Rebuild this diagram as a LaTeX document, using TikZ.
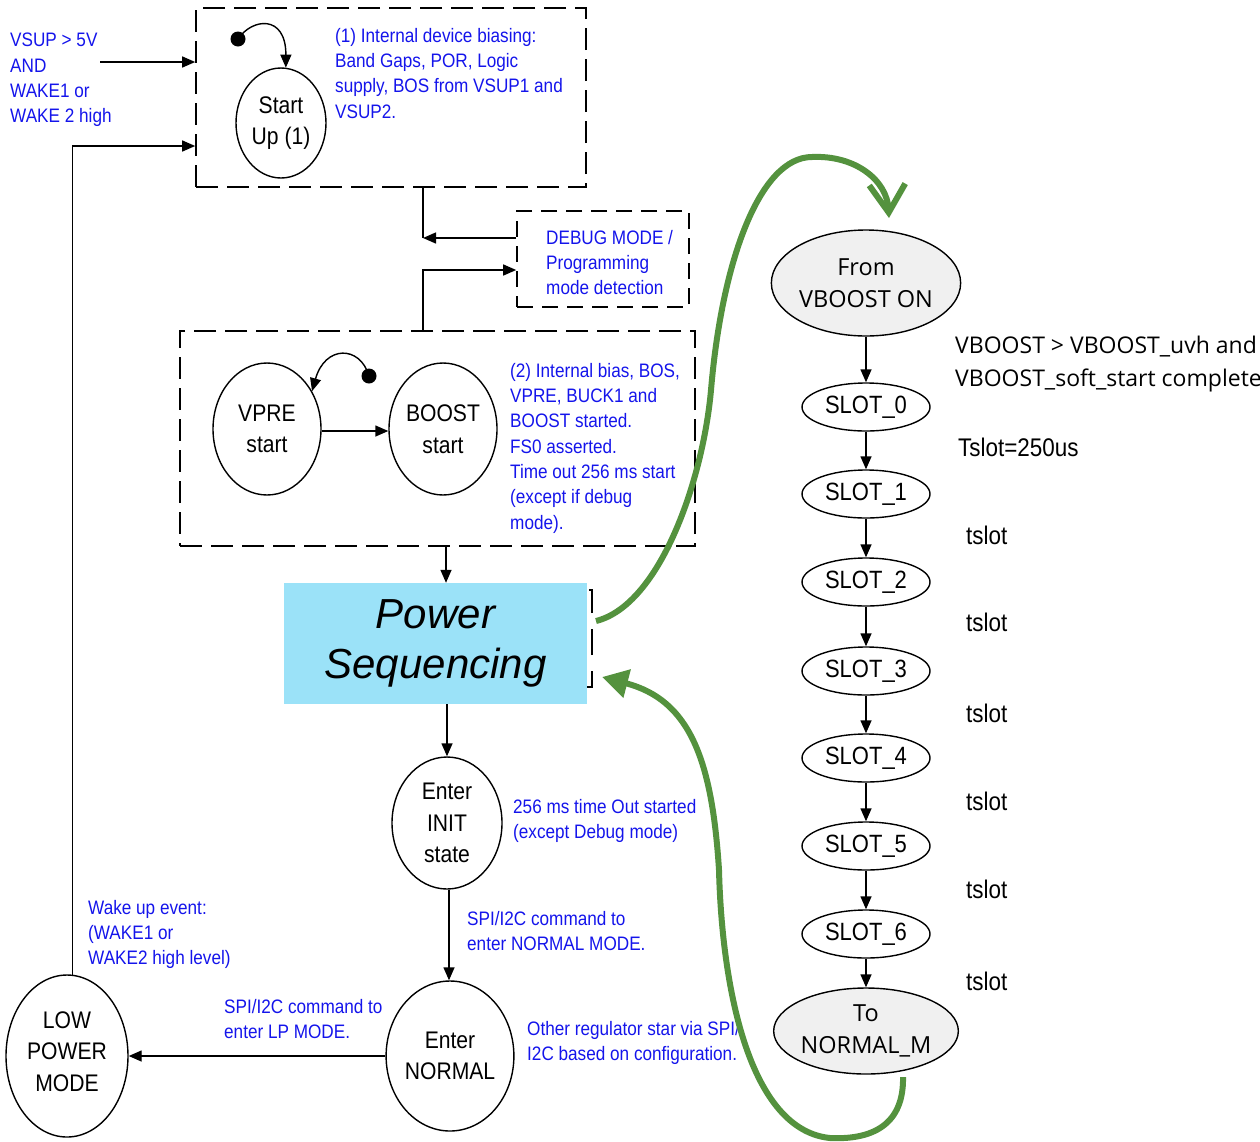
\documentclass[tikz,border=0pt]{standalone}
\usepackage{fontspec}
\setmainfont{Liberation Sans}[FakeStretch=0.88]
\newfontfamily\psfont{Liberation Sans}
\newfontfamily\osfont{Open Sans}
\usetikzlibrary{shapes.geometric,arrows.meta}
\definecolor{noteblue}{RGB}{20,20,235}
\definecolor{seqcyan}{RGB}{155,226,248}
\definecolor{pathgreen}{RGB}{84,146,62}
\definecolor{stategray}{RGB}{240,240,240}
\newcommand\setfs[2]{\fontsize{#1pt}{#2pt}\selectfont}
\tikzset{
  ln/.style={line width=1.4pt},
  arr/.style={ln, -{Triangle[length=13pt,width=11pt]}},
  dbox/.style={draw, line width=1.6pt, dash pattern=on 22pt off 9pt, inner sep=0pt},
  state/.style={ellipse, draw, line width=1.4pt, inner sep=0pt, align=center, font=\setfs{24}{31.5}},
  slot/.style={ellipse, draw, line width=1.4pt, inner sep=0pt, minimum width=128, minimum height=48, font=\setfs{25}{30}},
  gstate/.style={ellipse, draw, line width=1.4pt, fill=stategray, inner sep=0pt, align=center, font=\osfont\setfs{23.5}{31.5}},
  note/.style={text=noteblue, align=left, anchor=north west, inner sep=0pt, font=\setfs{19.5}{25.3}},
  side/.style={anchor=west, inner sep=0pt, font=\setfs{25.5}{30}},
  dot/.style={circle, fill, minimum size=15, inner sep=0pt},
  gpath/.style={draw=pathgreen, line width=6pt},
}
\begin{document}
\begin{tikzpicture}[x=1pt,y=-1pt]
\useasboundingbox (0,0) rectangle (1260,1141);

% ---- start-up block ----
\node[dbox, minimum width=390, minimum height=179] (box1) at (391,97.5) {};
\node[state, minimum width=90, minimum height=110] (startup) at (281,123) {Start\\Up (1)};
\node[dot] (dot1) at (238,39) {};
\draw[arr] (dot1.center) .. controls (252,18) and (286,14) .. (startup.85);
\node[note] (n1) at (335,28) {(1) Internal device biasing:\\Band Gaps, POR, Logic\\supply, BOS from VSUP1 and\\VSUP2.};
\node[note] (inp) at (10,33) {VSUP > 5V\\AND\\WAKE1 or\\WAKE 2 high};
\coordinate (inA) at (100,62);
\draw[arr] (inA) -- (inA -| box1.west);

% ---- debug detection ----
\node[dbox, dash pattern=on 16pt off 9pt, minimum width=172, minimum height=96] (dbg) at (603,259) {};
\node[note] (dbgtxt) at (546,230) {DEBUG MODE /\\Programming\\mode detection};
\coordinate (jA) at (423,238);
\coordinate (jB) at (423,270);
\draw[ln] (box1.south -| jA) -- (jA);
\draw[arr] (dbg.west |- jA) -- (jA);

% ---- regulator start block ----
\node[dbox, minimum width=515, minimum height=215] (box2) at (437.5,438.5) {};
\draw[arr] (box2.north -| jB) |- (dbg.west |- jB);
\node[state, minimum width=108, minimum height=132] (vpre) at (267,429) {VPRE\\start};
\node[state, minimum width=108, minimum height=132] (boost) at (443,429) {BOOST\\start};
\coordinate (ya) at (0,431);
\draw[arr] (vpre.east |- ya) -- (boost.west |- ya);
\node[dot] (dot2) at (369,376) {};
\draw[arr] (dot2.center) .. controls (360,345) and (325,345) .. (vpre.40);
\node[note] (n2) at (510,363) {(2) Internal bias, BOS,\\VPRE, BUCK1 and\\BOOST started.\\FS0 asserted.\\Time out 256 ms start\\(except if debug\\mode).};

% ---- power sequencing ----
\node[draw, line width=1.2pt, dash pattern=on 26pt off 16pt, minimum width=304, minimum height=97, inner sep=0pt] (psdash) at (440,638.5) {};
\node[fill=seqcyan, minimum width=303, minimum height=121, inner sep=0pt, align=center,
      font=\psfont\itshape\setfs{42}{50}] (psbox) at (435.5,643.5) {Power\\Sequencing};
\coordinate (xa) at (446,0);
\draw[arr] (box2.south -| xa) -- (psbox.north -| xa);

% ---- init / normal / low power ----
\node[state, minimum width=110, minimum height=132] (init) at (447,823) {Enter\\INIT\\state};
\node[state, minimum width=124, minimum height=150] (normal) at (450,1056) {Enter\\NORMAL};
\node[state, minimum width=122, minimum height=162] (lpm) at (67,1056) {LOW\\POWER\\MODE\\[-22.5pt]\mbox{}};
\draw[arr] (psbox.south -| init.north) -- (init.north);
\coordinate (xc) at (449,0);
\draw[arr] (init.south -| xc) -- (normal.north -| xc);
\draw[arr] (normal.west) -- (lpm.east);
\coordinate (wk) at (73,146);
\draw[arr] (lpm.86) |- (box1.west |- wk);

\node[note] (n3) at (513,799) {256 ms time Out started\\(except Debug mode)};
\node[note] (n4) at (467,911) {SPI/I2C command to\\enter NORMAL MODE.};
\node[note] (n5) at (224,999) {SPI/I2C command to\\enter LP MODE.};
\node[note] (n6) at (88,900) {Wake up event:\\(WAKE1 or\\WAKE2 high level)};
\node[note] (n7) at (527,1021) {Other regulator star via SPI/\\I2C based on configuration.};

% ---- slot sequence ----
\node[gstate, minimum width=186, minimum height=106] (from) at (866,283) {From\\VBOOST ON};
\node[slot] (s0) at (866,407) {SLOT\_0};
\node[slot] (s1) at (866,494) {SLOT\_1};
\node[slot] (s2) at (866,582) {SLOT\_2};
\node[slot] (s3) at (866,671) {SLOT\_3};
\node[slot] (s4) at (866,758) {SLOT\_4};
\node[slot] (s5) at (866,846) {SLOT\_5};
\node[slot] (s6) at (866,934) {SLOT\_6};
\node[gstate, minimum width=184, minimum height=86] (tonm) at (866,1031) {To\\NORMAL\_M};
\draw[arr] (from) -- (s0);
\draw[arr] (s0) -- (s1);
\draw[arr] (s1) -- (s2);
\draw[arr] (s2) -- (s3);
\draw[arr] (s3) -- (s4);
\draw[arr] (s4) -- (s5);
\draw[arr] (s5) -- (s6);
\draw[arr] (s6) -- (tonm);

\node[anchor=west, inner sep=0pt, align=left, font=\osfont\setfs{23}{33}] (cond) at (955,364.5)
  {VBOOST > VBOOST\_uvh and\\VBOOST\_soft\_start complete};
\node[side] (ts) at (958,447) {Tslot=250us};
\node[side] (t1) at (966,535) {tslot};
\node[side] (t2) at (966,622) {tslot};
\node[side] (t3) at (966,713) {tslot};
\node[side] (t4) at (966,801) {tslot};
\node[side] (t5) at (966,889) {tslot};
\node[side] (t6) at (966,981) {tslot};

% ---- green sequencing loop ----
\coordinate (gA) at (596,621);
\coordinate (gB) at (889,218);
\draw[gpath, -{Straight Barb[length=28pt,width=36pt]}] (gA)
  .. controls (660,605) and (703,480) .. (711,390)
  .. controls (722,260) and (760,157) .. (812,157)
  .. controls (855,155) and (887,180) .. (gB);
\coordinate (gC) at (903,1077);
\coordinate (gD) at (602,677);
\draw[gpath, -{Triangle[length=26pt,width=28pt]}] (gC)
  .. controls (904,1125) and (872,1140) .. (830,1138)
  .. controls (750,1130) and (722,990) .. (719,870)
  .. controls (712,760) and (690,700) .. (gD);
\end{tikzpicture}
\end{document}
